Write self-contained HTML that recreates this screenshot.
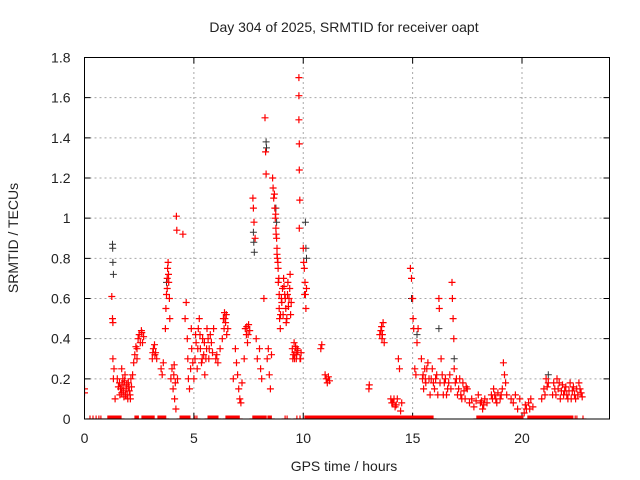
<!DOCTYPE html>
<html><head><meta charset="utf-8"><style>
html,body{margin:0;padding:0;background:#fff}
svg{display:block}
text{font-family:"Liberation Sans",sans-serif;fill:#222}
</style></head><body>
<svg id="chart" width="640" height="480" viewBox="0 0 640 480" xmlns="http://www.w3.org/2000/svg">
<text x="344" y="32" font-size="14" text-anchor="middle">Day 304 of 2025, SRMTID for receiver oapt</text>
<text transform="translate(18,238) rotate(-90)" font-size="14" text-anchor="middle">SRMTID / TECUs</text>
<text x="344" y="471" font-size="14" text-anchor="middle">GPS time / hours</text>
<g id="grid"></g>
<g id="ticks"></g>
<defs><clipPath id="pc"><rect x="84.5" y="57.5" width="525" height="361.5"/></clipPath></defs>
<g id="marks" clip-path="url(#pc)"></g>
<rect x="84.5" y="57.5" width="525" height="361.5" fill="none" stroke="#000" stroke-width="1"/>
</svg>
<script>
const xTicks=[0,5,10,15,20];
const yTicks=[0,0.2,0.4,0.6,0.8,1,1.2,1.4,1.6,1.8];
const yTickLabels=["0","0.2","0.4","0.6","0.8","1","1.2","1.4","1.6","1.8"];
const zeroRuns=[[0.25,0.25],[0.39,0.39],[0.53,0.53],[0.66,0.66],[0.75,0.75],[1.07,1.71],[2.31,2.49],[2.63,3.18],[3.36,3.73],[4.37,4.82],[5.05,5.05],[5.14,5.14],[5.65,6.10],[6.47,7.11],[7.70,8.30],[8.39,8.57],[9.17,9.17],[9.26,9.26],[9.71,9.71],[9.85,9.85],[10.08,15.93],[17.94,20.05],[20.27,22.33],[22.43,22.43],[22.51,22.51],[22.79,22.79]];
const redPts=[[0,0.13],[0,0.15],[1.25,0.61],[1.28,0.5],[1.3,0.48],[1.3,0.3],[1.35,0.25],[1.32,0.2],[1.4,0.1],[1.5,0.2],[1.6,0.18],[1.65,0.15],[1.7,0.13],[1.75,0.2],[1.8,0.17],[1.85,0.22],[1.9,0.15],[1.95,0.12],[2.0,0.18],[2.05,0.14],[2.1,0.1],[2.12,0.2],[1.7,0.25],[1.8,0.11],[2.15,0.16],[2.2,0.22],[2.25,0.28],[2.3,0.32],[2.35,0.36],[2.4,0.3],[2.45,0.4],[2.5,0.42],[2.6,0.44],[2.7,0.41],[2.65,0.38],[3.1,0.3],[3.15,0.35],[3.2,0.37],[3.25,0.33],[3.3,0.3],[3.5,0.25],[3.55,0.22],[3.6,0.28],[3.7,0.45],[3.72,0.55],[3.75,0.62],[3.78,0.7],[3.8,0.75],[3.82,0.78],[3.85,0.68],[3.88,0.6],[3.9,0.5],[3.95,0.2],[4.0,0.25],[4.05,0.15],[4.1,0.27],[4.12,0.1],[4.18,0.05],[4.2,1.01],[4.22,0.94],[4.25,0.2],[4.5,0.92],[4.6,0.5],[4.65,0.58],[4.7,0.4],[4.72,0.3],[4.75,0.2],[4.8,0.15],[4.85,0.25],[4.9,0.35],[4.95,0.28],[5.0,0.2],[5.05,0.3],[5.1,0.38],[5.15,0.25],[5.2,0.45],[5.25,0.5],[5.3,0.35],[5.35,0.28],[5.4,0.4],[5.45,0.32],[5.5,0.22],[5.55,0.3],[5.6,0.45],[5.65,0.4],[5.7,0.35],[5.75,0.42],[5.8,0.38],[5.85,0.33],[5.9,0.45],[6.0,0.3],[6.05,0.32],[6.1,0.28],[6.2,0.35],[6.3,0.4],[6.35,0.5],[6.4,0.53],[6.45,0.48],[6.5,0.42],[6.55,0.45],[6.8,0.2],[6.9,0.35],[6.95,0.28],[7.0,0.22],[7.05,0.15],[7.1,0.1],[7.15,0.08],[7.2,0.18],[7.3,0.3],[7.35,0.45],[7.4,0.42],[7.45,0.38],[7.5,0.47],[7.55,0.44],[7.7,1.1],[7.72,1.05],[7.75,0.98],[7.8,0.9],[7.85,0.4],[7.9,0.3],[8.0,0.35],[8.05,0.25],[8.1,0.2],[8.2,0.6],[8.25,1.5],[8.28,1.33],[8.3,1.22],[8.35,0.3],[8.4,0.35],[8.45,0.22],[8.5,0.15],[8.55,0.32],[8.6,1.2],[8.62,1.15],[8.65,1.1],[8.7,1.05],[8.72,1.0],[8.75,0.95],[8.78,0.9],[8.8,0.85],[8.82,0.8],[8.85,0.75],[8.88,0.7],[8.9,0.55],[8.92,0.5],[8.95,0.45],[9.0,0.6],[9.05,0.65],[9.1,0.7],[9.15,0.62],[9.2,0.55],[9.25,0.5],[9.3,0.68],[9.35,0.6],[9.4,0.72],[9.45,0.58],[9.5,0.35],[9.55,0.32],[9.6,0.3],[9.65,0.36],[9.7,0.32],[9.75,0.34],[9.8,1.7],[9.8,1.61],[9.8,1.49],[9.82,1.37],[9.82,1.24],[9.84,1.09],[9.82,0.95],[9.85,0.3],[9.9,0.33],[10.0,0.85],[10.05,0.75],[10.08,0.68],[10.1,0.62],[10.12,0.55],[10.15,0.65],[10.8,0.35],[10.85,0.37],[11.0,0.22],[11.05,0.2],[11.1,0.18],[11.15,0.21],[11.2,0.19],[13.0,0.15],[13.02,0.17],[13.5,0.42],[13.55,0.44],[13.6,0.4],[13.65,0.48],[13.7,0.38],[14.0,0.1],[14.1,0.08],[14.2,0.06],[14.3,0.1],[14.35,0.3],[14.4,0.25],[14.45,0.04],[14.5,0.08],[14.9,0.75],[14.95,0.7],[15.0,0.6],[15.02,0.5],[15.05,0.45],[15.1,0.25],[15.15,0.22],[15.2,0.38],[15.25,0.45],[15.4,0.3],[15.45,0.2],[15.5,0.15],[15.55,0.25],[15.6,0.18],[15.7,0.28],[15.8,0.12],[15.85,0.2],[15.9,0.25],[16.0,0.15],[16.1,0.22],[16.2,0.6],[16.22,0.55],[16.25,0.18],[16.3,0.3],[16.4,0.12],[16.5,0.2],[16.6,0.15],[16.7,0.22],[16.8,0.68],[16.82,0.6],[16.85,0.5],[16.88,0.4],[16.9,0.25],[17.0,0.2],[17.1,0.15],[17.2,0.12],[17.3,0.18],[17.4,0.1],[17.5,0.15],[17.6,0.08],[17.7,0.1],[17.8,0.06],[17.9,0.09],[18.0,0.12],[18.1,0.08],[18.2,0.05],[18.3,0.1],[18.4,0.08],[18.6,0.12],[18.7,0.15],[18.8,0.1],[18.9,0.13],[19.0,0.1],[19.1,0.15],[19.15,0.28],[19.2,0.22],[19.25,0.18],[19.3,0.12],[19.5,0.1],[19.6,0.08],[19.7,0.12],[19.8,0.05],[19.9,0.1],[20.1,0.03],[20.2,0.05],[20.3,0.08],[20.4,0.1],[20.5,0.06],[20.9,0.1],[21.0,0.15],[21.1,0.2],[21.2,0.18],[21.4,0.12],[21.5,0.15],[21.6,0.2],[21.7,0.18],[21.8,0.14],[21.9,0.12],[22.0,0.16],[22.1,0.1],[22.2,0.18],[22.3,0.14],[22.4,0.12],[22.5,0.15],[22.6,0.18],[22.7,0.13],
[1.55,0.16],[1.62,0.12],[1.72,0.17],[1.78,0.14],[1.83,0.19],[1.88,0.12],[1.93,0.17],[1.98,0.1],[2.02,0.16],[2.08,0.12],[2.4,0.35],[2.55,0.38],[2.62,0.43],[3.12,0.33],[3.22,0.32],[3.78,0.65],[3.84,0.72],[4.08,0.22],[4.15,0.18],[4.88,0.45],[5.08,0.42],[5.18,0.35],[5.28,0.42],[5.38,0.3],[5.48,0.38],[5.58,0.35],[5.68,0.3],[6.38,0.45],[6.42,0.5],[6.48,0.52],[7.42,0.46],[7.48,0.42],[8.68,1.12],[8.74,1.02],[8.76,0.92],[8.8,0.82],[8.84,0.78],[8.86,0.68],[8.9,0.62],[8.96,0.52],[9.02,0.58],[9.08,0.52],[9.12,0.66],[9.18,0.6],[9.22,0.48],[9.28,0.62],[9.32,0.56],[9.38,0.65],[9.42,0.52],[9.52,0.3],[9.58,0.38],[9.62,0.33],[9.68,0.3],[9.72,0.35],[9.88,0.3],[10.02,0.78],[10.06,0.62],[13.58,0.46],[13.62,0.42],[14.05,0.08],[14.15,0.1],[14.25,0.07],[15.48,0.22],[15.58,0.2],[15.65,0.25],[15.75,0.2],[15.95,0.18],[16.05,0.2],[16.15,0.12],[16.35,0.22],[16.45,0.18],[16.55,0.12],[16.65,0.18],[16.75,0.15],[16.95,0.18],[17.05,0.12],[17.15,0.2],[17.25,0.1],[17.35,0.14],[17.45,0.16],[18.15,0.09],[18.25,0.07],[18.65,0.1],[18.75,0.12],[18.85,0.08],[19.05,0.12],[20.15,0.07],[20.35,0.05],[21.05,0.12],[21.15,0.16],[21.45,0.18],[21.55,0.12],[21.65,0.15],[21.75,0.1],[21.85,0.17],[21.95,0.14],[22.05,0.12],[22.15,0.14],[22.25,0.1],[22.35,0.16],[22.45,0.1],[22.55,0.12],[22.65,0.15],[22.75,0.11]];
const blackPts=[[1.28,0.87],[1.29,0.85],[1.3,0.78],[1.32,0.72],[3.75,0.68],[7.72,0.93],[7.74,0.88],[7.76,0.83],[8.3,1.38],[8.32,1.35],[8.75,1.05],[8.78,0.98],[10.1,0.98],[10.12,0.85],[10.15,0.8],[14.95,0.6],[15.2,0.42],[16.2,0.45],[16.9,0.3],[21.2,0.22]];
const X0=84.5,X1=609.5,Y0=419,Y1=57.5,XMAX=24,YMAX=1.8;
function sx(t){return X0+(X1-X0)*t/XMAX;}
function sy(v){return Y0-(Y0-Y1)*v/YMAX;}
const NS='http://www.w3.org/2000/svg';
const grid=document.getElementById('grid'),ticks=document.getElementById('ticks'),marks=document.getElementById('marks');
function mk(tag,attrs,parent){const e=document.createElementNS(NS,tag);for(const k in attrs)e.setAttribute(k,attrs[k]);parent.appendChild(e);return e;}
xTicks.forEach(t=>{const x=sx(t);
 if(t>0){const g=mk('line',{x1:x,x2:x,y1:Y0,y2:Y1,stroke:'#a8a8a8','stroke-dasharray':'2,3'},grid);}
 const tk=mk('path',{d:`M${x},${Y0}v-6M${x},${Y1}v6`,stroke:'#000'},ticks);
 const l=mk('text',{x:x,y:Y0+24,'font-size':14,'text-anchor':'middle'},ticks);l.textContent=String(t);
 
 });
yTicks.forEach((v,i)=>{const y=sy(v);
 if(v>0&&v<YMAX){const g=mk('line',{x1:X0,x2:X1,y1:y,y2:y,stroke:'#a8a8a8','stroke-dasharray':'2,3'},grid);}
 const tk=mk('path',{d:`M${X0},${y}h6M${X1},${y}h-6`,stroke:'#000'},ticks);
 const l=mk('text',{x:X0-14,y:y+5,'font-size':14,'text-anchor':'end'},ticks);l.textContent=yTickLabels[i];
 
 });
function plus(t,v){const x=sx(t),y=sy(v);return `M${(x-3.5).toFixed(1)},${y.toFixed(1)}h7M${x.toFixed(1)},${(y-3.5).toFixed(1)}v7`;}
let zd='';zeroRuns.forEach(r=>{for(let t=r[0];t<=r[1]+1e-9;t+=0.05)zd+=plus(t,0);});
let rd='';redPts.forEach(p=>{rd+=plus(p[0],p[1]);});
let bd='';blackPts.forEach(p=>{bd+=plus(p[0],p[1]);});
const z=mk('path',{d:zd,stroke:'#f00','stroke-width':1.2,fill:'none'},marks);


const b=mk('path',{d:bd,stroke:'#333','stroke-width':1,fill:'none'},marks);


const r=mk('path',{d:rd,stroke:'#f00','stroke-width':1.2,fill:'none'},marks);


</script>
</body></html>
